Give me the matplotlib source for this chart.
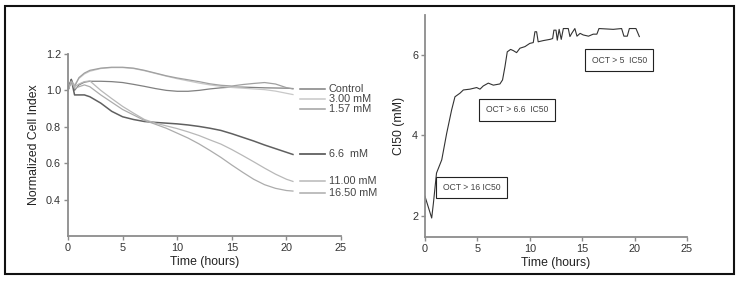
import matplotlib
matplotlib.use("Agg")
import matplotlib.pyplot as plt
from matplotlib.patches import Rectangle

plt.rcParams["font.family"] = ["Liberation Sans", "DejaVu Sans"]

# ---- left panel: normalized cell index ----
TIME = [0, 0.3, 0.6, 1.0, 1.5, 2, 3, 4, 5, 6, 7, 8, 9, 10, 11, 12, 13, 14,
        15, 16, 17, 18, 19, 20, 20.6]
CONTROL = [1.00, 1.06, 1.00, 1.03, 1.045, 1.05, 1.05, 1.048, 1.043, 1.033, 1.022,
           1.01, 1.0, 0.995, 0.995, 1.0, 1.008, 1.014, 1.018, 1.018, 1.016, 1.014,
           1.013, 1.012, 1.01]
C300 = [1.00, 1.05, 1.03, 1.065, 1.09, 1.105, 1.12, 1.125, 1.125, 1.12, 1.108,
        1.093, 1.078, 1.064, 1.052, 1.04, 1.03, 1.022, 1.016, 1.012, 1.008, 1.004,
        0.996, 0.984, 0.977]
C157 = [1.00, 1.06, 1.02, 1.07, 1.095, 1.11, 1.122, 1.127, 1.127, 1.122, 1.11,
        1.095, 1.08, 1.068, 1.058, 1.048, 1.036, 1.028, 1.024, 1.032, 1.038, 1.043,
        1.035, 1.015, 1.008]
C66 = [1.00, 1.06, 0.975, 0.975, 0.975, 0.965, 0.93, 0.885, 0.855, 0.84, 0.829,
       0.824, 0.82, 0.816, 0.81, 0.802, 0.792, 0.78, 0.762, 0.742, 0.722, 0.70,
       0.68, 0.66, 0.648]
C1100 = [1.00, 1.05, 1.02, 1.035, 1.048, 1.052, 1.0, 0.955, 0.912, 0.875, 0.84,
         0.82, 0.805, 0.79, 0.772, 0.752, 0.728, 0.705, 0.675, 0.642, 0.608, 0.573,
         0.54, 0.512, 0.50]
C1650 = [1.00, 1.05, 1.01, 1.02, 1.03, 1.02, 0.975, 0.935, 0.895, 0.865, 0.835,
         0.814, 0.792, 0.765, 0.738, 0.706, 0.67, 0.632, 0.59, 0.55, 0.512, 0.482,
         0.462, 0.45, 0.447]

SERIES = [CONTROL, C300, C157, C66, C1100, C1650]
LABELS = ["Control", "3.00 mM", "1.57 mM", "6.6  mM", "11.00 mM", "16.50 mM"]
LABEL_Y = [1.009, 0.952, 0.899, 0.648, 0.502, 0.436]
COLORS = ["#808080", "#c8c8c8", "#a0a0a0", "#606060", "#b8b8b8", "#acacac"]
WIDTHS = [0.9, 0.9, 0.9, 1.1, 0.9, 0.9]

# ---- right panel: CI50 over time ----
CI_TIME = [0, 0.64, 0.8, 1.1, 1.6, 2.07, 2.54, 2.86, 3.34, 3.66, 4.29, 4.93, 5.25,
           5.56, 6.04, 6.52, 7.15, 7.4, 7.63, 7.85, 8.17, 8.43, 8.74, 9.06, 9.54,
           10.0, 10.33, 10.49, 10.65, 10.8, 11.29, 11.92, 12.18, 12.3, 12.5, 12.62,
           12.8, 13.0, 13.2, 13.67, 13.83, 14.0, 14.3, 14.5, 14.8, 15.1, 15.6,
           16.05, 16.4, 16.6, 17.96, 18.76, 18.98, 19.3, 19.5, 20.13, 20.45]
CI50 = [2.48, 1.94, 2.3, 3.06, 3.39, 4.05, 4.63, 4.96, 5.05, 5.13, 5.15, 5.19, 5.15,
        5.23, 5.30, 5.25, 5.28, 5.38, 5.71, 6.08, 6.14, 6.11, 6.06, 6.17, 6.21,
        6.29, 6.31, 6.58, 6.58, 6.33, 6.36, 6.39, 6.41, 6.62, 6.62, 6.37, 6.64,
        6.39, 6.66, 6.66, 6.46, 6.54, 6.66, 6.47, 6.54, 6.50, 6.47, 6.52, 6.52,
        6.66, 6.64, 6.66, 6.47, 6.47, 6.66, 6.66, 6.46]
NOTES = ["OCT > 16 IC50", "OCT > 6.6  IC50", "OCT > 5  IC50"]
NOTE_POS = [(1.7, 2.70), (5.8, 4.64), (15.9, 5.87)]

SPINE = "#8c8c8c"
TXT = "#222222"

fig = plt.figure(figsize=(7.4, 2.81), dpi=100)


def style(ax):
    for s in ("top", "right"):
        ax.spines[s].set_visible(False)
    for s in ("left", "bottom"):
        ax.spines[s].set_color(SPINE)
        ax.spines[s].set_linewidth(1.3)
    ax.tick_params(direction="out", length=3, width=1, color=SPINE,
                   labelsize=7.8, labelcolor="#333333", pad=2)
    ax.set_xlim(0, 25)
    ax.set_xticks([0, 5, 10, 15, 20, 25])
    ax.set_xlabel("Time (hours)", fontsize=8.8, color=TXT, labelpad=2)


ax1 = fig.add_axes([0.0919, 0.160, 0.3689, 0.648])
style(ax1)
for vals, c, w in zip(SERIES, COLORS, WIDTHS):
    ax1.plot(TIME, vals, color=c, lw=w)
ax1.set_ylim(0.2, 1.2)
ax1.set_yticks([0.4, 0.6, 0.8, 1.0, 1.2])
ax1.set_yticklabels(["0.4", "0.6", "0.8", "1.0", "1.2"])
ax1.set_ylabel("Normalized Cell Index", fontsize=8.8, color=TXT, labelpad=4)
for lab, y, c, w in zip(LABELS, LABEL_Y, COLORS, WIDTHS):
    ax1.plot([21.25, 23.5], [y, y], color=c, lw=w + 0.2, clip_on=False)
    ax1.text(23.9, y, lab, fontsize=7.8, color="#444444", va="center", ha="left")

ax2 = fig.add_axes([0.5743, 0.157, 0.3541, 0.790])
style(ax2)
ax2.plot(CI_TIME, CI50, color="#333333", lw=0.8)
ax2.set_ylim(1.47, 7.0)
ax2.set_yticks([2, 4, 6])
ax2.set_ylabel("CI50 (mM)", fontsize=8.8, color=TXT, labelpad=5)
for note, (x, y) in zip(NOTES, NOTE_POS):
    ax2.text(x, y, note, fontsize=6.2, color="#444444", va="center", ha="left",
             bbox=dict(boxstyle="square,pad=0.75", facecolor="white",
                       edgecolor="#222222", lw=0.8))

fig.add_artist(Rectangle((5 / 740, 1 - 274 / 281), 729 / 740, 268 / 281,
                         transform=fig.transFigure, fill=False,
                         edgecolor="#111111", lw=1.5))

fig.savefig("out.png", dpi=100, facecolor="white")
